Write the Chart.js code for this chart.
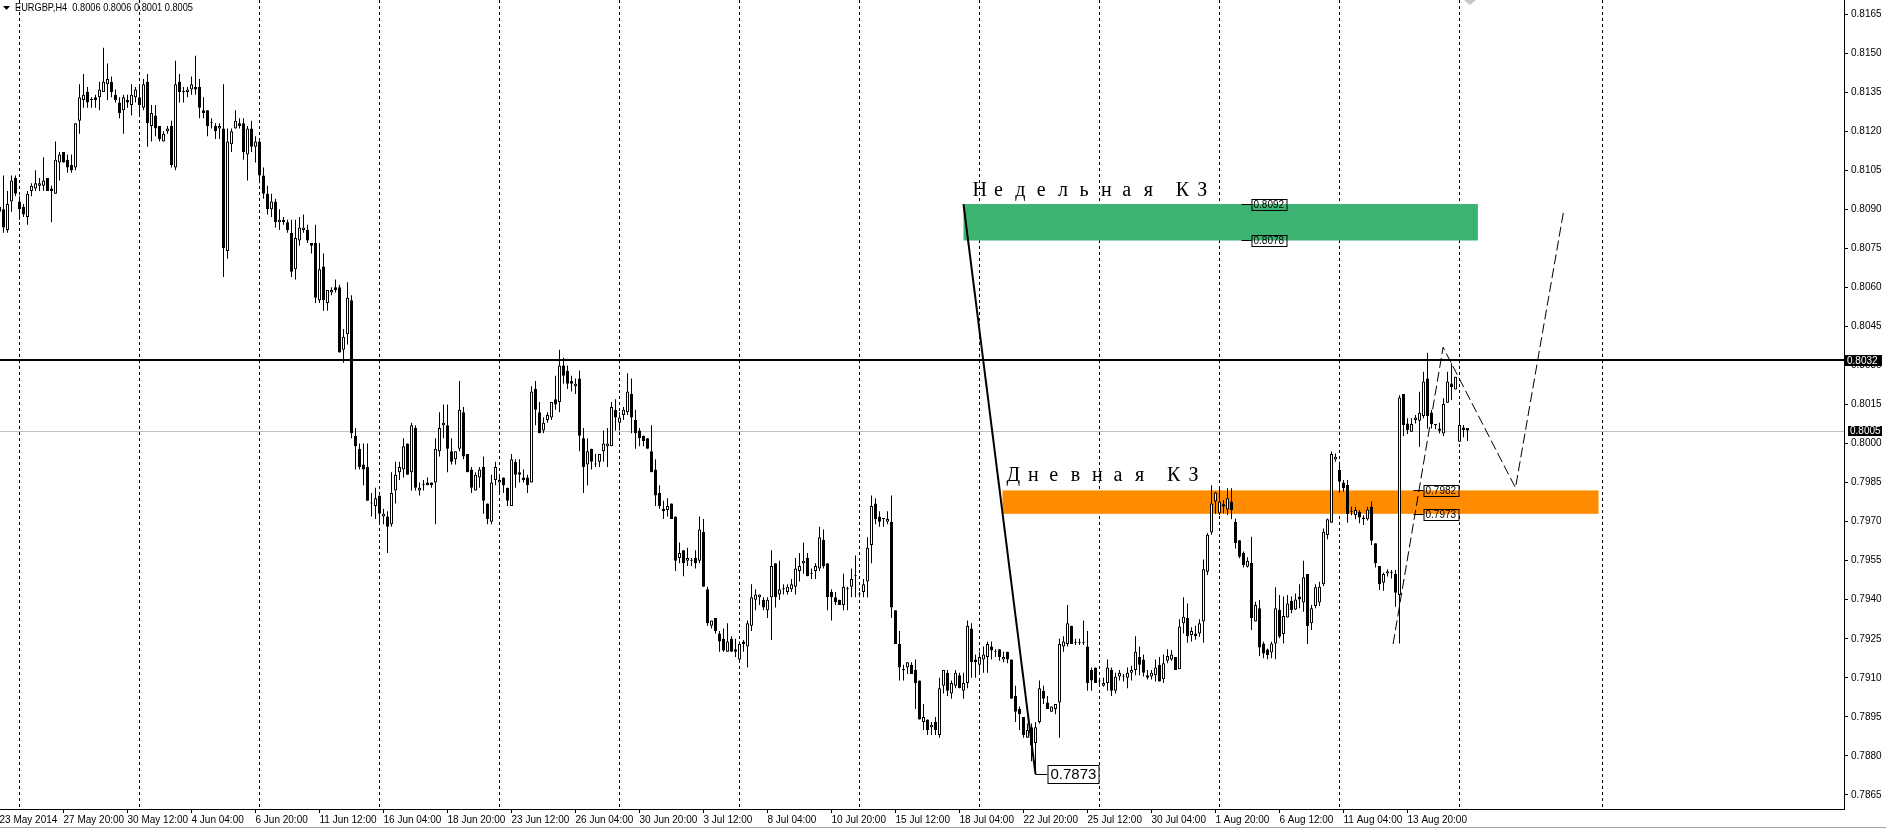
<!DOCTYPE html>
<html><head><meta charset="utf-8">
<script src="https://cdn.jsdelivr.net/npm/chart.js@4.4.0/dist/chart.umd.min.js"></script>
<style>html,body{margin:0;padding:0;background:#fff;overflow:hidden}#wrap{position:relative;width:1886px;height:830px}</style>
</head><body><div id="wrap"><canvas id="c" width="1886" height="830"></canvas></div>
<script>
// ---- EURGBP H4 candles (bar 0 = 23 May 2014 04:00) ----
const openP = [
.8091,.8090,.8082,.8093,.8102,.8093,.8091,.8087,.8097,.8098,
.8099,.8099,.8102,.8098,.8096,.8108,.8112,.8109,.8107,.8106,
.8124,.8132,.8135,.8132,.8133,.8133,.8135,.8138,.8139,.8134,
.8131,.8128,.8132,.8130,.8133,.8133,.8129,.8139,.8122,.8126,
.8122,.8116,.8120,.8122,.8106,.8139,.8135,.8135,.8136,.8137,
.8137,.8128,.8128,.8123,.8122,.8121,.8121,.8074,.8115,.8121,
.8123,.8123,.8111,.8121,.8114,.8116,.8103,.8096,.8090,.8093,
.8085,.8086,.8085,.8081,.8067,.8078,.8082,.8082,.8077,.8077,
.8055,.8068,.8054,.8058,.8060,.8060,.8036,.8042,.8055,.8003,
.7998,.7992,.7991,.7977,.7976,.7980,.7972,.7972,.7969,.7982,
.7989,.7990,.8000,.7989,.8006,.7982,.7984,.7985,.7985,.7985,
.7997,.8007,.8007,.7997,.7994,.7998,.8012,.7996,.7990,.7982,
.7987,.7991,.7977,.7970,.7986,.7985,.7987,.7983,.7976,.7993,
.7989,.7987,.7987,.7985,.8021,.8012,.8005,.8009,.8010,.8017,
.8016,.8030,.8028,.8024,.8022,.8025,.8002,.7992,.7998,.7992,
.7993,.7997,.7999,.7999,.8013,.8008,.8011,.8012,.8019,.8009,
.8005,.8003,.8002,.7997,.7990,.7981,.7975,.79745,.7977,.7972,
.7956,.7959,.7955,.7955,.7956,.7955,.7966,.7944,.7930,.7933,
.7927,.7925,.7920,.7925,.7921,.7917,.7924,.7922,.7930,.7940,
.7941,.7940,.7936,.7941,.7954,.7942,.7944,.7943,.7944,.7945,
.7951,.7954,.7956,.7950,.7951,.7952,.7963,.7954,.7943,.7941,
.7940,.7938,.7944,.7945,.7949,.7942,.7943,.7947,.7961,.7977,
.7972,.7971,.7970,.7970,.7936,.7923,.7913,.7914,.7915,.7913,
.7909,.7893,.7894,.7891,.7893,.7888,.7907,.7912,.7904,.7907,
.7911,.7905,.7908,.7929,.7917,.7915,.7917,.7918,.7922,.7920,
.7921,.7917,.7920,.7917,.7903,.7898,.7895,.7887,.7891,.7885,
.7893,.7905,.79005,.7897,.7898,.79005,.7922,.7923,.7930,.79235,
.79235,.79233,.7922,.7913,.7914,.79086,.7907,.7908,.7913,.7905,
.79105,.79105,.7910,.7912,.7913,.7918,.7917,.7911,.79105,.7911,
.7915,.79095,.79166,.7917,.7918,.79133,.7931,.7933,.79265,.7927,
.7927,.79316,.79508,.79658,.79777,.79732,.79767,.79747,.79777,.7970,
.79629,.7958,.79527,.79542,.79316,.79367,.79232,.79209,.79197,.79232,
.79361,.79268,.79332,.79396,.79363,.79412,.79389,.79499,.7931,.79376,
.79389,.7946,.79649,.79696,.79939,.79898,.7985,.79841,.79738,.79725,
.79738,.79709,.79709,.79757,.79617,.7953,.79465,.79501,.79504,.79499,
.79418,.8019,.80077,.80045,.8009,.80088,.80106,.8025,.80119,.80071,
.80058,.80039,.80157,.80231,.80208,.80007,.80062,.8006];
const highP = [
.8092,.8103,.8097,.8103,.8103,.8095,.8092,.8097,.8100,.8105,
.8102,.8110,.8102,.8099,.8116,.8112,.8112,.8111,.8111,.8123,
.8138,.8142,.8137,.8133,.8134,.8139,.8152,.8146,.8141,.8136,
.8133,.8134,.8134,.8138,.8137,.8138,.8140,.8142,.8130,.8130,
.8122,.8120,.8122,.8124,.8147,.8142,.8137,.8137,.8141,.8149,
.8140,.8133,.8128,.8125,.8123,.8123,.8138,.8121,.8121,.8128,
.8125,.8125,.8122,.8124,.8118,.8117,.8106,.8099,.8096,.8094,
.8090,.8087,.8086,.8086,.8086,.8087,.8088,.8084,.8077,.8084,
.8077,.8073,.8059,.8060,.8063,.8061,.8044,.8062,.8057,.8006,
.8000,.8000,.8000,.7981,.7983,.7980,.7975,.7974,.7989,.7993,
.7993,.8002,.8000,.8008,.8007,.7985,.7986,.7987,.7985,.8002,
.8012,.8015,.8015,.8002,.7997,.8024,.8014,.7996,.7991,.7989,
.7991,.7995,.7977,.7988,.7993,.7988,.7987,.7983,.7996,.7994,
.7994,.7990,.7988,.8022,.8024,.8016,.8010,.8012,.8016,.8026,
.8036,.8033,.8030,.8026,.8025,.8028,.8006,.8002,.7998,.7996,
.7996,.8005,.8006,.8016,.8017,.8012,.8014,.8027,.8025,.8013,
.8006,.8003,.8002,.8007,.7994,.7984,.7978,.7979,.7977,.7972,
.7962,.7959,.7960,.7956,.7959,.7972,.7971,.7945,.7932,.7933,
.7928,.7929,.7931,.7926,.7925,.7924,.79245,.7932,.7946,.7944,
.7942,.7941,.7941,.7959,.7954,.7955,.7946,.7946,.7948,.7956,
.7958,.7962,.7958,.7952,.7954,.7968,.7967,.7954,.7944,.7943,
.7940,.7950,.7945,.7952,.7957,.7943,.7948,.7964,.7980,.7979,
.7974,.7971,.7974,.7980,.7936,.7928,.7915,.7916,.7916,.7917,
.7909,.7900,.7894,.7893,.7895,.7910,.7913,.7913,.7909,.7913,
.7912,.7912,.7932,.7931,.7919,.7920,.7922,.7924,.7924,.7921,
.7921,.7920,.7920,.7917,.7907,.7899,.7895,.78925,.78925,.7893,
.7909,.7907,.7903,.7899,.7900,.7925,.7926,.7938,.7930,.7925,
.7925,.7932,.7928,.7914,.7914,.7910,.7910,.7917,.7914,.7912,
.7913,.79115,.7914,.79146,.7926,.7922,.7919,.7913,.7913,.7917,
.7918,.7919,.7921,.79207,.7918,.79325,.7941,.79386,.79294,.7930,
.79325,.79555,.79655,.7984,.79815,.79835,.79783,.79828,.79828,.79712,
.79629,.79585,.79563,.79642,.79392,.79399,.79239,.79213,.79239,.79448,
.79418,.79412,.79418,.79412,.79424,.7946,.7955,.79499,.7938,.7946,
.79469,.79674,.79712,.79969,.79962,.7993,.7986,.7986,.79757,.79757,
.79745,.79725,.79757,.79777,.79617,.7953,.79504,.79517,.79514,.79514,
.80186,.8019,.80097,.80097,.8011,.80199,.80276,.80349,.80129,.80075,
.8008,.80174,.80276,.80308,.80257,.80135,.80071,.8006];
const lowP = [
.8088,.8081,.8081,.8089,.8095,.8086,.8087,.8084,.8095,.8097,
.8097,.8097,.8097,.8085,.8096,.8101,.8108,.8104,.8104,.8105,
.8119,.8129,.8129,.8129,.8129,.8128,.8135,.8132,.8133,.8131,
.8125,.8119,.8129,.8126,.8131,.8126,.8128,.8114,.8116,.8118,
.8116,.8116,.8119,.8106,.8105,.8131,.8131,.8133,.8134,.8134,
.8125,.8125,.8118,.8121,.8117,.8117,.8064,.8071,.8112,.8121,
.8121,.8109,.8101,.8112,.8108,.8100,.8094,.8088,.8087,.8083,
.8082,.8084,.8081,.8064,.8063,.8076,.8081,.8077,.8073,.8054,
.8054,.8051,.8051,.8057,.8058,.8035,.8031,.8038,.8002,.7990,
.7990,.7984,.7978,.7972,.7971,.7969,.7969,.7958,.7968,.7977,
.7986,.7987,.7988,.7982,.7982,.7980,.7982,.7984,.7983,.7969,
.7995,.8002,.7989,.7992,.7992,.7997,.7994,.7989,.7981,.7982,
.7983,.7973,.7969,.7969,.7984,.7981,.7981,.7976,.7976,.7983,
.7985,.7985,.7981,.7985,.8007,.8004,.8004,.8008,.8009,.8013,
.8012,.8023,.8021,.8020,.8019,.7997,.7981,.7984,.7990,.7991,
.7991,.7993,.7991,.7999,.8005,.8005,.8009,.8011,.8004,.7998,
.7999,.7999,.7998,.7989,.7976,.7975,.7971,.7972,.7971,.7951,
.7954,.7949,.7953,.7953,.7952,.7954,.7945,.7930,.7929,.7927,
.7920,.7920,.7920,.7920,.7918,.7916,.7920,.7914,.7928,.7936,
.7938,.7936,.7933,.79245,.7937,.7940,.7942,.7942,.7943,.7942,
.7947,.7950,.7949,.7948,.7948,.7951,.7952,.7936,.7932,.7938,
.7938,.7936,.7936,.7941,.7941,.7941,.7941,.7941,.7954,.7969,
.7968,.7968,.7969,.7933,.7923,.7909,.7909,.79115,.79115,.7898,
.7894,.7890,.7888,.7888,.7888,.7887,.7904,.7903,.7902,.7906,
.7906,.7902,.7906,.7910,.7910,.7912,.7912,.7912,.7917,.7918,
.79166,.7916,.79156,.7902,.7893,.7890,.7887,.7887,.7878,.7873,
.78925,.7900,.7898,.7897,.7896,.7887,.7920,.7922,.7923,.79226,
.79226,.79226,.7905,.7905,.7908,.79076,.79066,.7905,.7903,.7904,
.7909,.79086,.7906,.7909,.7911,.7911,.79105,.79094,.79094,.79086,
.79086,.7908,.79156,.79166,.7913,.79133,.7927,.79235,.7924,.79246,
.79258,.79235,.79495,.7965,.7973,.79726,.79732,.79726,.79709,.79597,
.79559,.79524,.79524,.79284,.79316,.79184,.79175,.79171,.79175,.79171,
.79252,.79232,.79332,.79348,.79361,.79367,.79354,.7923,.79284,.79367,
.79376,.79453,.79632,.79696,.7993,.79811,.79815,.79696,.79725,.79709,
.79694,.79687,.79704,.7961,.79524,.79437,.79435,.79489,.79482,.79373,
.79232,.80029,.80037,.80045,.80077,.79988,.80097,.80058,.80058,.80055,
.80039,.80029,.80157,.80167,.80208,.80007,.80024,.8001];
const closeP = [
.8089,.8083,.8092,.8101,.8096,.8090,.8088,.8096,.8099,.8100,
.8100,.8101,.8097,.8097,.8109,.8111,.8108,.8106,.8105,.8123,
.8133,.8134,.8131,.8132,.8132,.8136,.8139,.8140,.8135,.8132,
.8127,.8133,.8131,.8134,.8136,.8130,.8138,.8123,.8127,.8121,
.8117,.8119,.8121,.8107,.8138,.8135,.8135,.8136,.8138,.8136,
.8129,.8127,.8122,.8123,.8120,.8122,.8075,.8116,.8120,.8124,
.8122,.8112,.8121,.8114,.8116,.8103,.8096,.8090,.8093,.8085,
.8086,.8085,.8082,.8066,.8079,.8083,.8083,.8078,.8076,.8056,
.8067,.8055,.8059,.8059,.8059,.8035,.8041,.8056,.8004,.7999,
.7991,.7990,.7978,.7977,.7979,.7973,.7973,.7968,.7981,.7988,
.7991,.7999,.7988,.8007,.7983,.7983,.7984,.7984,.7984,.7998,
.8006,.8008,.7998,.7993,.7997,.8013,.7995,.7989,.7983,.7988,
.7990,.7978,.7971,.7985,.7991,.7986,.7984,.7978,.7994,.7988,
.7988,.7986,.7984,.8020,.8013,.8004,.8008,.8011,.8016,.8015,
.8030,.8026,.8023,.8023,.8023,.8003,.7991,.7997,.7993,.7992,
.7996,.8000,.8000,.8014,.8010,.8010,.8013,.8020,.8010,.8004,
.8002,.8001,.7998,.7989,.7980,.7976,.7974,.7976,.7971,.7955,
.7958,.7954,.7956,.7955,.7954,.7967,.7945,.7931,.7932,.7928,
.7924,.79205,.7924,.7920,.7920,.7923,.7923,.7931,.7941,.7942,
.7942,.7937,.7940,.7953,.7941,.7944,.7944,.7945,.7946,.7952,
.7953,.7955,.7949,.7950,.7953,.7964,.7953,.7941,.7941,.7939,
.7938,.7945,.7944,.7948,.7949,.7942,.7946,.7960,.7976,.7971,
.7970,.7971,.7971,.7937,.7923,.7914,.7913,.7916,.79115,.7908,
.7894,.7895,.7890,.7892,.7890,.7906,.7913,.7905,.7908,.7912,
.7906,.7908,.7930,.7916,.7916,.7918,.7919,.7923,.79205,.7920,
.7918,.7918,.7917,.7902,.7897,.7896,.7888,.7890,.7884,.7891,
.7906,.7902,.7898,.7899,.7900,.7923,.7924,.7931,.7923,.79235,
.79235,.79233,.7908,.7909,.7908,.79086,.7908,.7914,.7905,.79105,
.7912,.79105,.7912,.7913,.7920,.7915,.7912,.7910,.7912,.7914,
.79086,.79156,.79184,.7919,.7913,.79297,.79335,.7926,.7928,.7926,
.7931,.79517,.7965,.7977,.79812,.79777,.79758,.7979,.79745,.79617,
.79565,.79533,.7955,.79329,.7938,.79217,.79194,.79188,.79232,.79367,
.79258,.79338,.79386,.79361,.79401,.79401,.79486,.79299,.79367,.79448,
.7945,.79661,.79709,.7996,.79949,.79853,.79828,.79729,.79738,.79745,
.79716,.79716,.79747,.79627,.7954,.7946,.79499,.79509,.79504,.79427,
.80177,.80071,.80052,.80075,.801,.80118,.80238,.80106,.80075,.80071,
.80049,.80152,.80238,.80216,.80257,.80071,.80052,.8005];

// ---- axes ----
const xTickLabels = ["23 May 2014","27 May 20:00","30 May 12:00","4 Jun 04:00","6 Jun 20:00","11 Jun 12:00",
"16 Jun 04:00","18 Jun 20:00","23 Jun 12:00","26 Jun 04:00","30 Jun 20:00","3 Jul 12:00","8 Jul 04:00",
"10 Jul 20:00","15 Jul 12:00","18 Jul 04:00","22 Jul 20:00","25 Jul 12:00","30 Jul 04:00","1 Aug 20:00",
"6 Aug 12:00","11 Aug 04:00","13 Aug 20:00"];
const barsPerLabel = 16;
const yTicks = [0.8165,0.8150,0.8135,0.8120,0.8105,0.8090,0.8075,0.8060,0.8045,0.8030,0.8015,0.8000,
0.7985,0.7970,0.7955,0.7940,0.7925,0.7910,0.7895,0.7880,0.7865];
const weekStartBars = [5,35,65,95,125,155,185,215,245,275,305,335,365,400.75];

// ---- drawn objects ----
const hLineLevel = 0.8032;       // black horizontal line
const bidLevel = 0.8005;         // grey bid line
const weeklyZone = [0.8078, 0.8092], weeklyZoneBars = [241, 369.6];
const dailyZone  = [0.7973, 0.7982], dailyZoneBars  = [250.75, 399.75];
const trendBars = [241, 259], trendPrices = [0.8092, 0.7873];
const forecastBars = [348.4, 360.9, 379, 391], forecastPrices = [0.7923, 0.8037, 0.7983, 0.8089];
const weeklyCaption = "Недельная КЗ", dailyCaption = "Дневная КЗ";
const titleText = "EURGBP,H4  0.8006 0.8006 0.8001 0.8005";

const bodies = openP.map((o,i)=>({x:i, y:[Math.min(o,closeP[i]), Math.max(o,closeP[i])]}));
const wicks = lowP.map((l,i)=>({x:i, y:[l, highP[i]]}));
const bodyColors = openP.map((o,i)=> closeP[i] >= o ? '#ffffff' : '#000000');

function spaced(ctx, str, x, y, step){
  let cx = x;
  for (const ch of str){ if (ch !== ' ') ctx.fillText(ch, cx, y); cx += (ch===' ' ? step*0.5 : step); }
}
function priceBox(ctx, txt, x, yc, w, h, bg, fg, border, tx){
  const top = Math.round(yc - h/2);
  if (bg){ ctx.fillStyle = bg; ctx.fillRect(x, top, w, h); }
  if (border){ ctx.strokeStyle = border; ctx.lineWidth = 1; ctx.strokeRect(x+0.5, top+0.5, w-1, h-1); }
  ctx.fillStyle = fg; ctx.textBaseline = 'middle'; ctx.textAlign = 'left';
  ctx.fillText(txt, x+(tx||2), top + h/2 + 0.5);
}

const overlay = {
  id:'overlay',
  beforeDatasetsDraw(chart){
    const {ctx, chartArea:a, scales:{x, y}} = chart;
    ctx.save();
    ctx.beginPath(); ctx.rect(a.left, a.top, a.right-a.left, a.bottom-a.top); ctx.clip();
    ctx.strokeStyle = '#000'; ctx.lineWidth = 1; ctx.setLineDash([3,3]);
    weekStartBars.forEach(b=>{ const px = Math.floor(x.getPixelForValue(b))+0.5;
      ctx.beginPath(); ctx.moveTo(px, a.top); ctx.lineTo(px, a.bottom); ctx.stroke(); });
    ctx.setLineDash([]);
    ctx.fillStyle = '#3cb371';
    ctx.fillRect(x.getPixelForValue(weeklyZoneBars[0]), y.getPixelForValue(weeklyZone[1]),
      x.getPixelForValue(weeklyZoneBars[1]) - x.getPixelForValue(weeklyZoneBars[0]),
      y.getPixelForValue(weeklyZone[0]) - y.getPixelForValue(weeklyZone[1]));
    ctx.fillStyle = '#ff8c00';
    ctx.fillRect(x.getPixelForValue(dailyZoneBars[0]), y.getPixelForValue(dailyZone[1]),
      x.getPixelForValue(dailyZoneBars[1]) - x.getPixelForValue(dailyZoneBars[0]),
      y.getPixelForValue(dailyZone[0]) - y.getPixelForValue(dailyZone[1]));
    ctx.strokeStyle = '#c0c0c0'; ctx.lineWidth = 1;
    const by = Math.round(y.getPixelForValue(bidLevel)) + 0.5;
    ctx.beginPath(); ctx.moveTo(a.left, by); ctx.lineTo(a.right, by); ctx.stroke();
    ctx.restore();
  },
  afterDatasetsDraw(chart){
    const {ctx, chartArea:a, scales:{x, y}} = chart;
    ctx.save();
    ctx.beginPath(); ctx.rect(a.left, a.top, a.right-a.left, a.bottom-a.top); ctx.clip();
    const hy = Math.round(y.getPixelForValue(hLineLevel));
    ctx.fillStyle = '#000'; ctx.fillRect(a.left, hy-1, a.right-a.left, 2);
    ctx.strokeStyle = '#000'; ctx.lineWidth = 2;
    ctx.beginPath();
    ctx.moveTo(x.getPixelForValue(trendBars[0]), y.getPixelForValue(trendPrices[0]));
    ctx.lineTo(x.getPixelForValue(trendBars[1]), y.getPixelForValue(trendPrices[1]));
    ctx.stroke();
    const ly = Math.round(y.getPixelForValue(trendPrices[1]))+0.5;
    ctx.lineWidth = 1;
    ctx.beginPath(); ctx.moveTo(x.getPixelForValue(trendBars[1]), ly); ctx.lineTo(x.getPixelForValue(trendBars[1])+12, ly); ctx.stroke();
    ctx.setLineDash([10,4]); ctx.lineWidth = 1;
    ctx.beginPath();
    forecastBars.forEach((b,k)=>{ const px=x.getPixelForValue(b), py=y.getPixelForValue(forecastPrices[k]); k?ctx.lineTo(px,py):ctx.moveTo(px,py); });
    ctx.stroke(); ctx.setLineDash([]);
    ctx.fillStyle = '#000'; ctx.font = "20px 'Liberation Serif', serif"; ctx.textBaseline = 'alphabetic'; ctx.textAlign='left';
    spaced(ctx, weeklyCaption, x.getPixelForValue(weeklyZoneBars[0])+9, 196, 21.4);
    spaced(ctx, dailyCaption, x.getPixelForValue(dailyZoneBars[0])+4, 481, 21.4);
    ctx.font = "10px 'Liberation Sans', sans-serif";
    const gx = x.getPixelForValue(313);
    [weeklyZone[1], weeklyZone[0]].forEach(p=>{ const py = Math.round(y.getPixelForValue(p))+0.5;
      ctx.strokeStyle='#000'; ctx.beginPath(); ctx.moveTo(gx-10, py); ctx.lineTo(gx, py); ctx.stroke();
      priceBox(ctx, p.toFixed(4), gx, py, 36, 12, null, '#000', '#000'); });
    const ox = x.getPixelForValue(356);
    [dailyZone[1], dailyZone[0]].forEach(p=>{ const py = Math.round(y.getPixelForValue(p))+0.5;
      ctx.strokeStyle='#000'; ctx.beginPath(); ctx.moveTo(ox-10, py); ctx.lineTo(ox, py); ctx.stroke();
      priceBox(ctx, p.toFixed(4), ox, py, 36, 12, null, '#000', '#000'); });
    ctx.font = "15px 'Liberation Sans', sans-serif";
    priceBox(ctx, trendPrices[1].toFixed(4), x.getPixelForValue(trendBars[1])+12, y.getPixelForValue(trendPrices[1]), 52, 19, '#fff', '#000', '#000', 3);
    ctx.restore();
  },
  afterDraw(chart){
    const {ctx, chartArea:a, scales:{y}} = chart;
    ctx.save();
    ctx.font = "10px 'Liberation Sans', sans-serif";
    priceBox(ctx, hLineLevel.toFixed(4), a.right+1, Math.round(y.getPixelForValue(hLineLevel)), 37, 11, '#000', '#fff', null);
    priceBox(ctx, bidLevel.toFixed(4), a.right+4, Math.round(y.getPixelForValue(bidLevel)), 34, 10, '#000', '#fff', null);
    ctx.fillStyle = '#000';
    ctx.beginPath(); ctx.moveTo(3,6); ctx.lineTo(10,6); ctx.lineTo(6.5,10); ctx.closePath(); ctx.fill();
    ctx.font = "11px 'Liberation Sans', sans-serif"; ctx.textBaseline='alphabetic'; ctx.textAlign='left';
    ctx.fillText(titleText, 15, 11, 178);
    ctx.fillStyle = '#c8c8c8';
    ctx.beginPath(); ctx.moveTo(1464,0); ctx.lineTo(1476,0); ctx.lineTo(1470,5); ctx.closePath(); ctx.fill();
    ctx.fillStyle = '#a0a0a0'; ctx.fillRect(0, 827, 1886, 1);
    ctx.restore();
  }
};

Chart.defaults.font.family = "'Liberation Sans', Arial, sans-serif";
new Chart(document.getElementById('c'), {
  type:'bar',
  data:{datasets:[
    {data:wicks, backgroundColor:'#000', borderWidth:0, barThickness:1, grouped:false, order:1, inflateAmount:0},
    {data:bodies, backgroundColor:bodyColors, borderColor:'#000', borderWidth:1, borderSkipped:false,
     barThickness:3, minBarLength:1, grouped:false, order:0, inflateAmount:0}
  ]},
  options:{
    responsive:false, animation:false, events:[],
    layout:{padding:0},
    plugins:{legend:{display:false}, tooltip:{enabled:false}, title:{display:false}},
    scales:{
      x:{type:'linear', min:0.125, max:461.125, offset:false,
        afterFit(s){ s.height = 21; s.paddingLeft = 0; s.paddingRight = 0; },
        afterBuildTicks(s){ s.ticks = xTickLabels.map((_,k)=>({value:k*barsPerLabel})); },
        ticks:{callback:(v)=> xTickLabels[Math.round(v/barsPerLabel)], align:'start', labelOffset:0, maxRotation:0,
          autoSkip:false, font:{size:10}, color:'#000', padding:1},
        grid:{drawOnChartArea:false, drawTicks:true, tickLength:4, color:'#000', offset:false},
        border:{display:true, color:'#000', width:1}},
      y:{position:'right', min:0.785962, max:0.817038,
        afterFit(s){ s.width = 42; s.paddingTop = 0; s.paddingBottom = 0; },
        afterBuildTicks(s){ s.ticks = yTicks.map(v=>({value:v})); },
        ticks:{callback:(v)=> v.toFixed(4), font:{size:10}, color:'#000', padding:3, autoSkip:false},
        grid:{drawOnChartArea:false, drawTicks:true, tickLength:4, color:'#000'},
        border:{display:true, color:'#000', width:1}}
    }
  },
  plugins:[overlay]
});
</script></body></html>
